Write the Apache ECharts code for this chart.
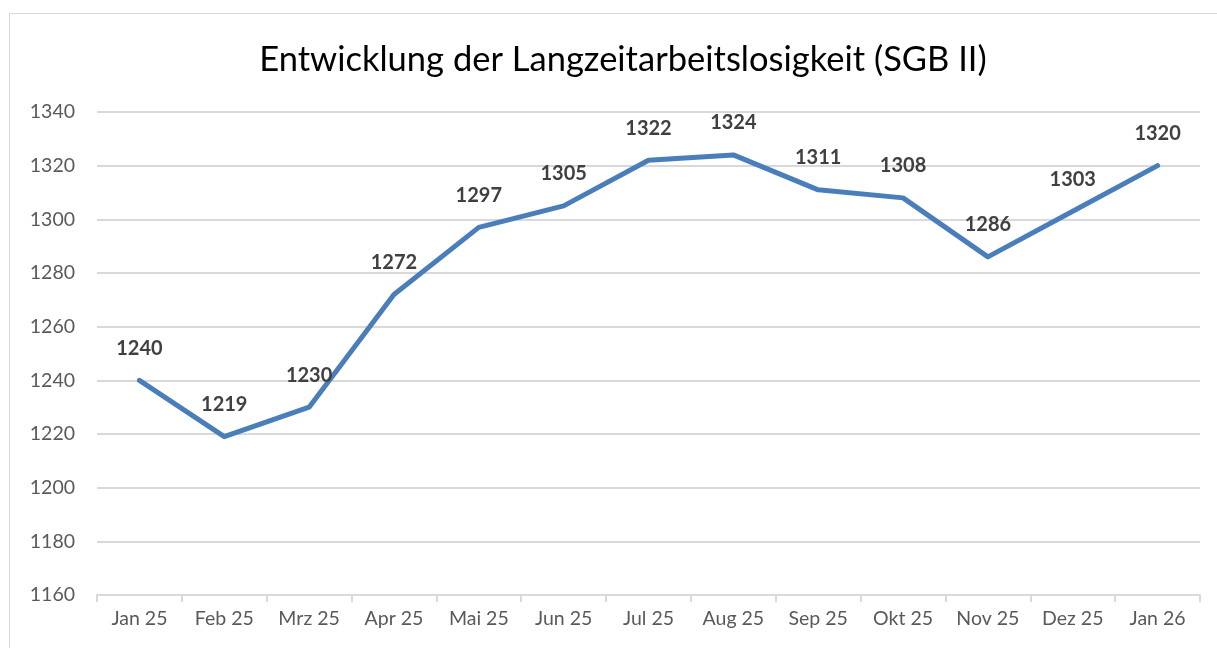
<!DOCTYPE html>
<html lang="de">
<head>
<meta charset="UTF-8">
<title>Langzeitarbeitslosigkeit</title>
<style>
  * { margin: 0; padding: 0; }
  body { background: #fff; }
  #frame {
    position: absolute;
    left: 9px; top: 13px;
    width: 1220px; height: 650px;
    border: 1px solid #d9d9d9;
  }
  #chart { position: absolute; left: 0; top: 0; width: 1217px; height: 648px; }
</style>
</head>
<body>
<div id="frame"></div>
<div id="chart"></div>
<script src="https://cdn.jsdelivr.net/npm/echarts@6/dist/echarts.min.js"></script>
<script>
var months = ['Jan 25', 'Feb 25', 'Mrz 25', 'Apr 25', 'Mai 25', 'Jun 25', 'Jul 25',
              'Aug 25', 'Sep 25', 'Okt 25', 'Nov 25', 'Dez 25', 'Jan 26'];
var values = [1240, 1219, 1230, 1272, 1297, 1305, 1322, 1324, 1311, 1308, 1286, 1303, 1320];
var yMin = 1160, yMax = 1340, yStep = 20;

var myChart = echarts.init(document.getElementById('chart'));
var option = {
  animation: false,
  title: {
    text: 'Entwicklung der Langzeitarbeitslosigkeit (SGB II)',
    left: 618, top: 37, textAlign: 'center',
    textStyle: { fontFamily: 'Lato', fontSize: 34.5, fontWeight: 'normal', color: '#000' }
  },
  grid: { left: 97, right: 17, top: 112, bottom: 53 },
  xAxis: {
    type: 'category',
    data: months,
    boundaryGap: true,
    axisLine: { lineStyle: { color: '#d9d9d9', width: 2 } },
    axisTick: { show: true, length: 7, lineStyle: { color: '#d9d9d9', width: 2 } },
    axisLabel: { color: '#595959', fontFamily: 'Lato', fontSize: 19.5, margin: 14 }
  },
  yAxis: {
    type: 'value',
    min: yMin, max: yMax, interval: yStep,
    axisLine: { show: false },
    axisTick: { show: false },
    splitLine: { lineStyle: { color: '#d9d9d9', width: 2 } },
    axisLabel: {
      color: '#595959', fontFamily: 'Lato', fontSize: 19.5, margin: 22,
      formatter: function (v) { return String(v); }
    }
  },
  series: [{
    type: 'line',
    data: values,
    symbol: 'circle',
    symbolSize: 2,
    showSymbol: true,
    itemStyle: { color: 'rgba(0,0,0,0)', borderWidth: 0 },
    lineStyle: { color: '#4a7ebb', width: 5, cap: 'round', join: 'round' },
    label: {
      show: true,
      position: 'top',
      distance: 21,
      color: '#404040',
      fontFamily: 'Lato',
      fontWeight: 'bold',
      fontSize: 20
    }
  }]
};
myChart.setOption(option);
</script>
</body>
</html>
